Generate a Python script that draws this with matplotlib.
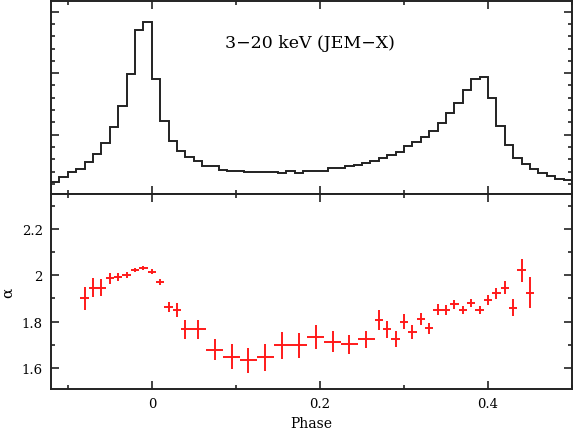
import numpy as np
import matplotlib.pyplot as plt
from matplotlib.ticker import MultipleLocator

# Pulse profile, 3-20 keV (JEM-X), 0.01 phase bins from -0.12 to 0.50
bin_edges = np.round(np.arange(-0.12, 0.5001, 0.01), 2)
counts = [6.18, 6.54, 6.94, 7.19, 7.78, 8.41, 9.30, 10.60, 12.36, 14.96,
          18.51, 19.14, 14.50, 11.14, 9.46, 8.65, 8.21, 7.89, 7.43, 7.43,
          7.13, 7.05, 7.05, 6.99, 6.99, 6.94, 6.94, 6.89, 7.02, 6.89,
          7.07, 7.02, 7.07, 7.27, 7.32, 7.43, 7.56, 7.72, 7.89, 8.11,
          8.37, 8.62, 9.06, 9.43, 9.84, 10.33, 10.95, 11.74, 12.58, 13.66,
          14.53, 14.72, 12.98, 10.71, 9.19, 8.08, 7.64, 7.19, 6.89, 6.62,
          6.40, 6.32]

# Photon index vs phase
phase = [-0.08, -0.07, -0.06, -0.05, -0.04, -0.03, -0.02, -0.01, 0.00, 0.01,
         0.02, 0.03, 0.04,
         0.055, 0.075, 0.095, 0.115, 0.135, 0.155, 0.175, 0.195, 0.215, 0.235, 0.255,
         0.27, 0.28, 0.29, 0.30, 0.31, 0.32, 0.33, 0.34, 0.35, 0.36,
         0.37, 0.38, 0.39, 0.40, 0.41, 0.42, 0.43, 0.44, 0.45]
phase_err = [0.005] * 13 + [0.01] * 11 + [0.005] * 19
alpha = [1.90, 1.947, 1.947, 1.986, 1.994, 2.001, 2.023, 2.032, 2.016, 1.971,
         1.863, 1.849, 1.767,
         1.767, 1.68, 1.65, 1.634, 1.647, 1.698, 1.698, 1.733, 1.714, 1.702, 1.724,
         1.807, 1.767, 1.726, 1.80, 1.755, 1.81, 1.772, 1.852, 1.85, 1.875,
         1.852, 1.879, 1.849, 1.892, 1.922, 1.947, 1.86, 2.022, 1.925]
alpha_err = [0.05, 0.039, 0.036, 0.022, 0.017, 0.013, 0.009, 0.009, 0.009, 0.013,
             0.02, 0.03, 0.04,
             0.04, 0.046, 0.052, 0.054, 0.059, 0.058, 0.055, 0.052, 0.045, 0.04, 0.036,
             0.042, 0.037, 0.034, 0.032, 0.029, 0.026, 0.024, 0.024, 0.022, 0.02,
             0.017, 0.017, 0.017, 0.022, 0.024, 0.029, 0.037, 0.05, 0.066]

plt.rcParams['font.family'] = 'DejaVu Serif'
axcol = '#222222'

fig = plt.figure(figsize=(5.74, 4.31), dpi=100)
ax1 = fig.add_axes([0.0889, 0.5476, 0.9076, 0.4478])
ax2 = fig.add_axes([0.0889, 0.0951, 0.9076, 0.4525])

ax1.stairs(counts, bin_edges, color=axcol, lw=1.4)
ax1.set_xlim(-0.12, 0.5)
ax1.set_ylim(5.18, 20.87)
ax1.yaxis.set_major_locator(MultipleLocator(5))
ax1.yaxis.set_minor_locator(MultipleLocator(1))
ax1.xaxis.set_major_locator(MultipleLocator(0.2))
ax1.xaxis.set_minor_locator(MultipleLocator(0.1))
ax1.set_xticklabels([])
ax1.set_yticklabels([])
ax1.text(0.497, 0.785, '3\u221220 keV (JEM\u2212X)', transform=ax1.transAxes,
         ha='center', va='center', fontsize=12.5, color='black')

ax2.errorbar(phase, alpha, xerr=phase_err, yerr=alpha_err, fmt='none',
             ecolor='#ff1a1a', elinewidth=1.4, capsize=0)
ax2.set_xlim(-0.12, 0.5)
ax2.set_ylim(1.51, 2.35)
ax2.yaxis.set_major_locator(MultipleLocator(0.2))
ax2.yaxis.set_minor_locator(MultipleLocator(0.1))
ax2.xaxis.set_major_locator(MultipleLocator(0.2))
ax2.xaxis.set_minor_locator(MultipleLocator(0.1))
ax2.set_xticks([0, 0.2, 0.4])
ax2.set_xticklabels(['0', '0.2', '0.4'])
ax2.set_yticks([1.6, 1.8, 2.0, 2.2])
ax2.set_yticklabels(['1.6', '1.8', '2', '2.2'])
ax2.set_xlabel('Phase', fontsize=10, labelpad=4)
ax2.set_ylabel('\u03b1', fontsize=11, labelpad=5)

for ax in (ax1, ax2):
    for s in ax.spines.values():
        s.set_linewidth(1.4)
        s.set_color(axcol)
    ax.tick_params(which='both', direction='in', top=True, right=True,
                   color=axcol, width=1.2, labelsize=9.5, pad=6)
    ax.tick_params(which='major', length=6)
    ax.tick_params(which='minor', length=3)

fig.savefig('out.png', dpi=100)
